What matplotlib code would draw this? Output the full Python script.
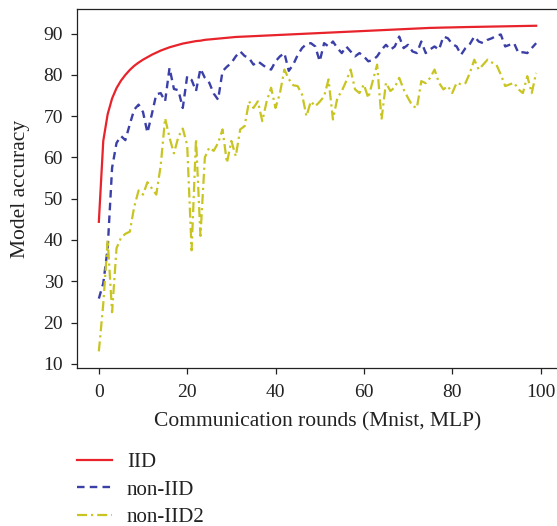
import matplotlib
matplotlib.use("Agg")
import matplotlib.pyplot as plt
import numpy as np

# Accuracy per communication round, MLP on MNIST
rounds = list(range(100))

iid = [44.4, 64.0, 70.5, 74.3, 76.8, 78.6, 80.0, 81.2, 82.2, 83.0,
       83.7, 84.3, 84.9, 85.4, 85.9, 86.3, 86.7, 87.0, 87.3, 87.6,
       87.8, 88.0, 88.2, 88.3, 88.5, 88.6, 88.7, 88.8, 88.9, 89.0,
       89.1, 89.2, 89.25, 89.3, 89.35, 89.4, 89.45, 89.5, 89.55, 89.6,
       89.65, 89.7, 89.75, 89.8, 89.85, 89.9, 89.95, 90.0, 90.05, 90.1,
       90.15, 90.2, 90.25, 90.3, 90.35, 90.4, 90.45, 90.5, 90.55, 90.6,
       90.65, 90.7, 90.75, 90.8, 90.85, 90.9, 90.95, 91.0, 91.05, 91.1,
       91.15, 91.2, 91.25, 91.3, 91.35, 91.4, 91.42, 91.45, 91.48, 91.5,
       91.52, 91.55, 91.57, 91.6, 91.62, 91.64, 91.66, 91.68, 91.7, 91.72,
       91.74, 91.76, 91.78, 91.8, 91.82, 91.84, 91.86, 91.88, 91.9, 91.92]

non_iid = [25.8, 29.5, 38.0, 57.5, 63.5, 65.2, 64.2, 68.0, 71.6, 72.8,
           71.0, 66.0, 70.5, 75.3, 75.6, 73.6, 81.7, 76.6, 76.3, 72.0,
           79.7, 78.8, 76.1, 81.5, 79.3, 78.1, 75.5, 74.0, 80.9, 82.0,
           82.9, 84.5, 85.7, 84.6, 84.1, 82.5, 83.3, 82.5, 81.7, 81.3,
           83.3, 84.5, 85.3, 81.0, 82.5, 84.8, 86.5, 87.5, 87.7, 86.9,
           83.3, 87.7, 86.9, 88.1, 86.5, 85.3, 86.9, 85.7, 84.5, 85.3,
           84.5, 83.3, 83.6, 84.5, 86.1, 87.3, 86.1, 86.9, 89.3, 86.5,
           87.3, 85.7, 85.3, 88.1, 85.3, 86.2, 86.9, 86.1, 89.3, 88.9,
           87.5, 86.9, 84.9, 86.5, 87.5, 89.3, 88.1, 87.7, 88.5, 88.9,
           89.5, 89.8, 86.9, 87.3, 87.7, 85.3, 85.5, 85.3, 86.5, 87.7]

non_iid2 = [13.0, 24.5, 40.0, 22.5, 38.0, 40.5, 41.5, 42.0, 48.0, 52.0,
            51.0, 54.0, 52.5, 51.0, 58.0, 69.5, 64.8, 61.0, 65.0, 67.0,
            63.0, 37.5, 64.5, 41.0, 60.0, 62.4, 61.6, 63.5, 66.8, 58.7,
            64.0, 60.3, 66.8, 67.6, 73.6, 72.0, 73.6, 68.8, 73.6, 76.9,
            72.0, 75.6, 81.3, 79.0, 77.5, 77.3, 75.3, 70.0, 73.6, 72.4,
            73.5, 74.8, 78.9, 69.2, 74.4, 76.1, 78.5, 81.3, 76.5, 75.6,
            77.7, 74.4, 78.5, 82.5, 69.2, 78.1, 76.1, 77.0, 79.3, 76.5,
            74.4, 72.5, 72.0, 78.5, 78.0, 79.3, 81.3, 78.1, 76.5, 77.3,
            75.6, 78.1, 77.7, 78.0, 80.5, 83.7, 81.3, 82.5, 83.7, 83.0,
            82.5, 80.1, 77.3, 77.7, 78.1, 76.5, 75.6, 79.7, 75.6, 80.5]

series_labels = ["IID", "non-IID", "non-IID2"]
x_ticks = [0, 20, 40, 60, 80, 100]
y_ticks = [10, 20, 30, 40, 50, 60, 70, 80, 90]

plt.rcParams["font.family"] = ["Liberation Serif", "DejaVu Serif"]

fig = plt.figure(figsize=(5.57, 5.26), dpi=100)
ax = fig.add_axes([0.1382, 0.301, 0.8636, 0.681])

ax.plot(rounds, iid, color="#e8232b", lw=1.6, label=series_labels[0])
ax.plot(rounds, non_iid, color="#3b3fa8", lw=1.7, dashes=(3.2, 2.2),
        label=series_labels[1])
ax.plot(rounds, non_iid2, color="#c8c522", lw=1.6, dashes=(4.5, 1.8, 1.0, 1.8),
        label=series_labels[2])

ax.set_xticks(x_ticks)
ax.set_yticks(y_ticks)
ax.tick_params(labelsize=14, length=4, width=0.9, colors="#222222")
ax.tick_params(axis="x", pad=8)
ax.tick_params(axis="y", pad=6)
for s in ax.spines.values():
    s.set_linewidth(0.9)
    s.set_color("#222222")

ax.set_xlabel("Communication rounds (Mnist, MLP)", fontsize=15.5, color="#222222",
              labelpad=8)
ax.set_ylabel("Model accuracy", fontsize=15.5, color="#222222", labelpad=10)

leg = fig.legend(loc="upper left", bbox_to_anchor=(0.1382, 0.139),
                 frameon=False, fontsize=15, handlelength=1.7,
                 handletextpad=0.7, borderpad=0, borderaxespad=0,
                 labelspacing=0.37)
for t in leg.get_texts():
    t.set_color("#222222")

fig.savefig("out.png", dpi=100)
